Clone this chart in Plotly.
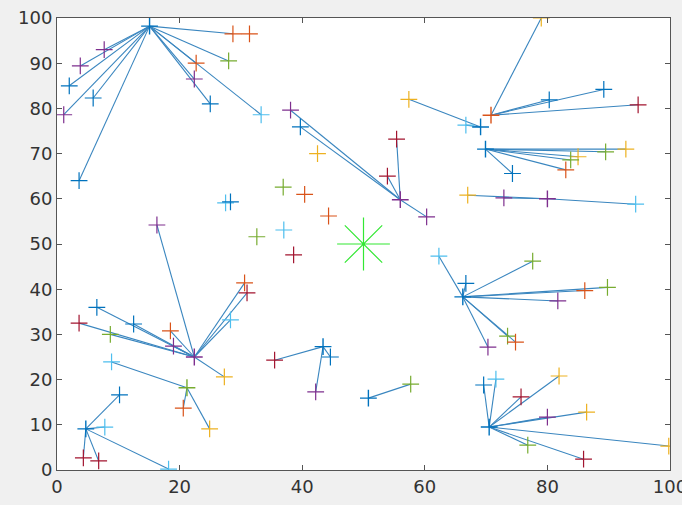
import plotly.graph_objects as go

# MATLAB default colour order
palette = {"blue": "#0072BD", "orange": "#D95319", "yellow": "#EDB120", "purple": "#7E2F8E",
           "green": "#77AC30", "cyan": "#4DBEEE", "red": "#A2142F"}

# Cluster heads
head_x = [15.1, 56.0, 70.8, 69.1, 69.9, 80.0, 66.2, 70.5, 50.8, 22.4, 21.2, 4.7, 43.4]
head_y = [98.2, 59.8, 78.5, 75.9, 71.0, 60.0, 38.3, 9.5, 15.9, 25.0, 18.2, 9.1, 27.3]
head_c = ["blue", "purple", "orange", "blue", "blue", "purple", "blue", "blue", "blue",
          "purple", "green", "blue", "blue"]

# Member nodes (head index -1 = not connected)
node_x = [3.8, 7.7, 2.0, 5.9, 1.1, 3.6, 22.7, 22.4, 25.0, 33.3, 28.0, 28.7,
          38.1, 39.7, 55.4, 53.9, 60.3,
          79.0, 89.2, 80.3, 94.8,
          57.4, 66.7,
          89.5, 92.8, 85.0, 83.8, 83.0, 74.3,
          67.0, 72.9, 94.4,
          62.3, 66.7, 77.6, 86.1, 89.8, 81.7, 73.5, 74.8, 70.3,
          69.6, 71.6, 81.9, 75.7, 80.0, 86.4, 99.8, 76.8, 85.9,
          57.7,
          16.3, 30.6, 31.0, 28.3, 27.3, 19.0, 18.5, 12.5, 6.5, 3.6, 8.7,
          8.9, 20.6, 24.9,
          10.2, 7.8, 4.3, 6.8, 18.2,
          35.5, 44.6, 42.2,
          27.5, 28.3, 36.9, 40.4, 44.3, 32.6, 37.0, 38.6, 31.4, 42.5]
node_y = [89.4, 93.0, 85.0, 82.3, 78.6, 64.0, 90.0, 86.5, 81.0, 78.6, 90.5, 96.5,
          79.6, 75.9, 73.2, 65.0, 56.0,
          100.0, 84.2, 81.9, 80.8,
          82.0, 76.3,
          70.4, 71.0, 69.3, 68.6, 66.4, 65.6,
          60.8, 60.2, 58.8,
          47.3, 41.3, 46.2, 39.7, 40.4, 37.4, 29.6, 28.3, 27.2,
          18.8, 20.1, 20.8, 16.2, 11.7, 12.8, 5.3, 5.5, 2.4,
          19.0,
          54.2, 41.4, 39.2, 33.2, 20.6, 27.4, 30.8, 32.3, 36.0, 32.5, 30.0,
          23.9, 13.7, 9.1,
          16.6, 9.5, 2.7, 2.0, 0.2,
          24.3, 25.0, 17.3,
          59.1, 59.3, 62.6, 61.0, 56.2, 51.6, 53.1, 47.6, 96.5, 70.0]
node_head = [0] * 12 + [1] * 5 + [2] * 4 + [3] * 2 + [4] * 6 + [5] * 3 + [6] * 9 + [7] * 9 + [8] \
    + [9] * 11 + [10] * 3 + [11] * 5 + [12] * 3 + [-1] * 10
node_c = ["purple", "purple", "blue", "blue", "purple", "blue", "orange", "purple", "blue", "cyan", "green", "orange",
          "purple", "blue", "red", "red", "purple",
          "yellow", "blue", "blue", "red",
          "yellow", "cyan",
          "green", "yellow", "yellow", "green", "orange", "blue",
          "yellow", "purple", "cyan",
          "cyan", "blue", "green", "orange", "green", "purple", "green", "orange", "purple",
          "blue", "cyan", "yellow", "red", "purple", "yellow", "yellow", "green", "red",
          "green",
          "purple", "orange", "red", "cyan", "yellow", "purple", "orange", "blue", "blue", "red", "green",
          "cyan", "orange", "yellow",
          "blue", "cyan", "red", "red", "cyan",
          "red", "blue", "purple",
          "cyan", "blue", "green", "orange", "orange", "green", "cyan", "red", "orange", "yellow"]

# Base station
bs_x = [50.0]
bs_y = [50.0]

# Tick labels
ticks = [0, 20, 40, 60, 80, 100]
yticks = [0, 10, 20, 30, 40, 50, 60, 70, 80, 90, 100]

fig = go.Figure()

lx, ly = [], []
for x, y, h in zip(node_x, node_y, node_head):
    if h >= 0:
        lx += [head_x[h], x, None]
        ly += [head_y[h], y, None]
fig.add_trace(go.Scatter(x=lx, y=ly, mode="lines",
                         line=dict(color="#3a86bf", width=1.1), hoverinfo="skip"))

fig.add_trace(go.Scatter(x=node_x, y=node_y, mode="markers",
                         marker=dict(symbol="cross-thin-open", size=12,
                                     color=[palette[c] for c in node_c],
                                     line=dict(width=1.2))))
fig.add_trace(go.Scatter(x=head_x, y=head_y, mode="markers",
                         marker=dict(symbol="cross-thin-open", size=12,
                                     color=[palette[c] for c in head_c],
                                     line=dict(width=1.4))))
fig.add_trace(go.Scatter(x=bs_x, y=bs_y, mode="markers",
                         marker=dict(symbol="asterisk-open", size=44, color="#33e833",
                                     line=dict(width=1.2))))

axis_common = dict(showgrid=False, zeroline=False, showline=True, mirror="ticks",
                   linecolor="#555555", linewidth=1, ticks="inside", ticklen=5,
                   tickcolor="#555555", automargin=False, ticklabeloverflow="allow",
                   tickfont=dict(family="DejaVu Sans", size=18, color="#333333"))
fig.update_xaxes(range=[0, 100], tickvals=ticks, ticktext=[str(t) for t in ticks], **axis_common)
fig.update_yaxes(range=[0, 100], tickvals=yticks, ticktext=[str(t) for t in yticks], **axis_common)

fig.update_layout(width=682, height=505, showlegend=False,
                  margin=dict(l=57, r=12, t=18, b=35),
                  paper_bgcolor="#f0f0f0", plot_bgcolor="white")

fig.write_html("out.html", config={"displayModeBar": False},
               post_script="document.body.style.margin='0';document.body.style.background='#f0f0f0';")
